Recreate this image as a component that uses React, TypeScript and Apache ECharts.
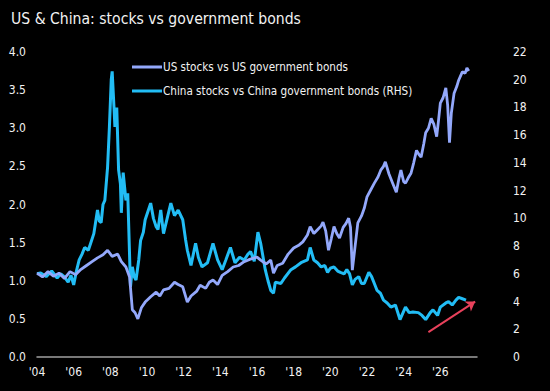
import React, { useEffect, useRef } from "react";
import * as echarts from "echarts";

const titleText = "US & China: stocks vs government bonds";
const usName = "US stocks vs US government bonds";
const cnName = "China stocks vs China government bonds (RHS)";

const xTicks = [2004, 2006, 2008, 2010, 2012, 2014, 2016, 2018, 2020, 2022, 2024, 2026];

const usYears = [
  2004.0, 2004.3, 2004.6, 2004.9, 2005.2, 2005.5, 2005.8, 2006.1, 2006.4, 2006.7,
  2007.0, 2007.3, 2007.6, 2007.85, 2008.1, 2008.4, 2008.6, 2008.85, 2009.05, 2009.2,
  2009.35, 2009.5, 2009.7, 2009.9, 2010.2, 2010.5, 2010.7, 2010.9, 2011.2, 2011.5,
  2011.7, 2011.95, 2012.2, 2012.4, 2012.7, 2012.9, 2013.2, 2013.4, 2013.6, 2013.85,
  2014.1, 2014.4, 2014.7, 2015.0, 2015.3, 2015.6, 2015.85, 2016.0, 2016.2, 2016.5,
  2016.75, 2016.9, 2017.1, 2017.4, 2017.7, 2018.0, 2018.3, 2018.5, 2018.75, 2018.9,
  2019.1, 2019.3, 2019.5, 2019.6, 2019.75, 2019.9, 2020.05, 2020.2, 2020.35, 2020.5,
  2020.7, 2020.85, 2021.0, 2021.1, 2021.2, 2021.35, 2021.5, 2021.7, 2021.85, 2022.0,
  2022.2, 2022.4, 2022.6, 2022.75, 2022.9, 2023.0, 2023.2, 2023.4, 2023.6, 2023.75,
  2023.85, 2024.0, 2024.1, 2024.25, 2024.4, 2024.55, 2024.7, 2024.85, 2024.95, 2025.1,
  2025.2, 2025.35, 2025.5, 2025.65, 2025.8, 2025.9, 2026.0, 2026.15, 2026.3, 2026.4,
  2026.5, 2026.6, 2026.75, 2026.9, 2027.0, 2027.2, 2027.35, 2027.45, 2027.55,
];
const usValues = [
  1.10, 1.05, 1.12, 1.06, 1.10, 1.03, 1.12, 1.08, 1.15, 1.20,
  1.25, 1.30, 1.34, 1.40, 1.32, 1.35, 1.25, 1.18, 1.05, 0.62,
  0.58, 0.50, 0.65, 0.72, 0.79, 0.85, 0.80, 0.88, 0.90, 0.98,
  0.95, 0.92, 0.72, 0.80, 0.86, 0.94, 0.90, 0.98, 1.01, 0.95,
  1.07, 1.12, 1.18, 1.20, 1.25, 1.28, 1.30, 1.31, 1.27, 1.22,
  1.27, 1.10, 1.20, 1.23, 1.35, 1.43, 1.47, 1.51, 1.60, 1.71,
  1.62, 1.67, 1.72, 1.77, 1.65, 1.40, 1.55, 1.71, 1.62, 1.56,
  1.70, 1.75, 1.82, 1.70, 1.14, 1.45, 1.76, 1.85, 1.95, 2.10,
  2.19, 2.28, 2.36, 2.45, 2.50, 2.56, 2.40, 2.28, 2.16, 2.35,
  2.45, 2.30, 2.28, 2.35, 2.41, 2.55, 2.71, 2.65, 2.62, 2.80,
  2.94, 3.00, 3.13, 3.05, 2.89, 3.10, 3.33, 3.40, 3.53, 3.30,
  2.81, 3.20, 3.46, 3.55, 3.63, 3.74, 3.72, 3.79, 3.75,
];

const cnYears = [
  2004.0, 2004.2, 2004.5, 2004.8, 2005.1, 2005.3, 2005.5, 2005.7, 2005.85, 2006.0,
  2006.15, 2006.3, 2006.45, 2006.6, 2006.8, 2006.95, 2007.1, 2007.3, 2007.4, 2007.5,
  2007.6, 2007.7, 2007.85, 2007.95, 2008.05, 2008.1, 2008.2, 2008.25, 2008.35, 2008.45,
  2008.55, 2008.6, 2008.7, 2008.85, 2008.95, 2009.1, 2009.2, 2009.3, 2009.4, 2009.55,
  2009.65, 2009.8, 2009.9, 2010.05, 2010.2, 2010.35, 2010.5, 2010.6, 2010.75, 2010.9,
  2011.1, 2011.3, 2011.5, 2011.7, 2011.95, 2012.1, 2012.2, 2012.4, 2012.65, 2012.8,
  2013.0, 2013.3, 2013.6, 2013.85, 2014.1, 2014.3, 2014.55, 2014.8, 2015.05, 2015.3,
  2015.5, 2015.65, 2015.85, 2016.05, 2016.2, 2016.45, 2016.6, 2016.75, 2016.9, 2017.0,
  2017.3, 2017.5, 2017.85, 2018.1, 2018.4, 2018.75, 2018.9, 2019.1, 2019.3, 2019.5,
  2019.7, 2019.85, 2020.0, 2020.2, 2020.4, 2020.55, 2020.75, 2020.9, 2021.05, 2021.2,
  2021.35, 2021.55, 2021.7, 2021.85, 2022.1, 2022.25, 2022.4, 2022.55, 2022.73, 2022.9,
  2023.1, 2023.3, 2023.55, 2023.8, 2024.1, 2024.3, 2024.5, 2024.8, 2025.0, 2025.2,
  2025.45, 2025.6, 2025.85, 2026.0, 2026.3, 2026.45, 2026.65, 2026.85, 2027.0, 2027.2,
  2027.4,
];
const cnValues = [
  6.0, 6.06, 5.8, 6.2, 5.7, 6.0, 5.77, 5.4, 5.9, 5.2,
  6.2, 7.0, 7.4, 7.9, 7.7, 8.3, 8.9, 10.6, 9.8, 9.7,
  11.0, 11.3, 13.7, 16.6, 20.0, 20.6, 18.0, 16.6, 18.0, 13.5,
  12.5, 10.4, 13.3, 11.3, 11.8, 5.05, 6.5, 5.8, 5.55, 7.0,
  8.4, 9.0, 9.9, 10.5, 11.1, 10.0, 9.4, 9.2, 10.6, 8.9,
  10.0, 11.1, 10.2, 10.6, 9.9, 8.5, 7.7, 6.6, 8.2, 7.2,
  6.5, 6.8, 8.2, 7.0, 6.3, 7.0, 7.9, 6.8, 7.2, 7.0,
  7.4, 7.6, 6.9, 9.0, 8.2, 6.3, 5.5, 4.8, 4.6, 5.4,
  5.3, 5.7, 6.3, 6.5, 6.8, 7.0, 7.9, 7.0, 6.8, 6.5,
  6.6, 6.1, 6.4, 6.5, 6.2, 6.1, 6.0, 6.3, 6.0, 5.2,
  5.6, 5.8, 5.3, 5.3, 6.1, 5.8, 5.3, 4.8, 4.6, 4.1,
  3.9, 3.6, 3.75, 2.7, 3.6, 3.2, 3.25, 3.2, 3.0, 2.7,
  3.2, 3.4, 3.0, 3.6, 3.9, 4.0, 3.75, 4.1, 4.3, 4.2,
  4.1,
];

const arrowFrom = [2025.35, 1.8];
const arrowTo = [2027.9, 4.0];

const FONT = "'DejaVu Sans Condensed', 'DejaVu Sans', sans-serif";

export default function App() {
  const ref = useRef<HTMLDivElement>(null);
  useEffect(() => {
    if (!ref.current) return;
    const chart = echarts.init(ref.current, null, { renderer: "svg" });
    const usData = usYears.map((y, i) => [y, usValues[i]]);
    const cnData = cnYears.map((y, i) => [y, cnValues[i]]);
    chart.setOption({
      animation: false,
      backgroundColor: "#000000",
      title: {
        text: titleText,
        left: 6,
        top: 6,
        textStyle: { color: "#f2f2f2", fontSize: 15.6, fontWeight: "normal", fontFamily: FONT },
      },
      legend: {
        orient: "vertical",
        left: 132,
        top: 61,
        padding: 0,
        itemWidth: 30,
        itemHeight: 3,
        itemGap: 12,
        icon: "rect",
        textStyle: { color: "#f2f2f2", fontSize: 11.6, fontFamily: FONT, padding: [0, 0, 0, -4] },
        data: [usName, cnName],
      },
      grid: { left: 37, right: 73, top: 52, bottom: 34, containLabel: false },
      xAxis: {
        type: "value",
        min: 2004,
        max: 2028,
        interval: 2,
        splitLine: { show: false },
        axisTick: { show: false },
        axisLine: { show: true, lineStyle: { color: "#a0a0a0", width: 1.5 } },
        axisLabel: {
          color: "#f2f2f2",
          fontSize: 12,
          fontFamily: FONT,
          margin: 9,
          formatter: (v: number) => (xTicks.includes(v) ? "'" + String(v).slice(2) : ""),
        },
      },
      yAxis: [
        {
          type: "value",
          min: 0,
          max: 4,
          interval: 0.5,
          splitLine: { show: false },
          axisLine: { show: false },
          axisTick: { show: false },
          axisLabel: {
            color: "#f2f2f2",
            fontSize: 12,
            fontFamily: FONT,
            margin: 11,
            formatter: (v: number) => v.toFixed(1),
          },
        },
        {
          type: "value",
          min: 0,
          max: 22,
          interval: 2,
          position: "right",
          splitLine: { show: false },
          axisLine: { show: false },
          axisTick: { show: false },
          axisLabel: {
            color: "#f2f2f2",
            fontSize: 12,
            fontFamily: FONT,
            margin: 36,
          },
        },
      ],
      series: [
        {
          name: usName,
          type: "line",
          yAxisIndex: 0,
          data: usData,
          symbol: "none",
          z: 3,
          color: "#93a8fb",
          lineStyle: { width: 2.8, color: "#93a8fb" },
        },
        {
          name: cnName,
          type: "line",
          yAxisIndex: 1,
          data: cnData,
          symbol: "none",
          z: 2,
          color: "#22bdf5",
          lineStyle: { width: 3, color: "#22bdf5" },
          markLine: {
            silent: true,
            symbol: ["none", "arrow"],
            symbolSize: 9,
            label: { show: false },
            lineStyle: { color: "#e8415b", width: 2, type: "solid" },
            data: [[{ coord: arrowFrom }, { coord: arrowTo }]],
          },
        },
      ],
    });
    return () => chart.dispose();
  }, []);
  return (
    <div
      ref={ref}
      style={{ position: "fixed", left: 0, top: 0, width: 550, height: 391, background: "#000" }}
    />
  );
}
